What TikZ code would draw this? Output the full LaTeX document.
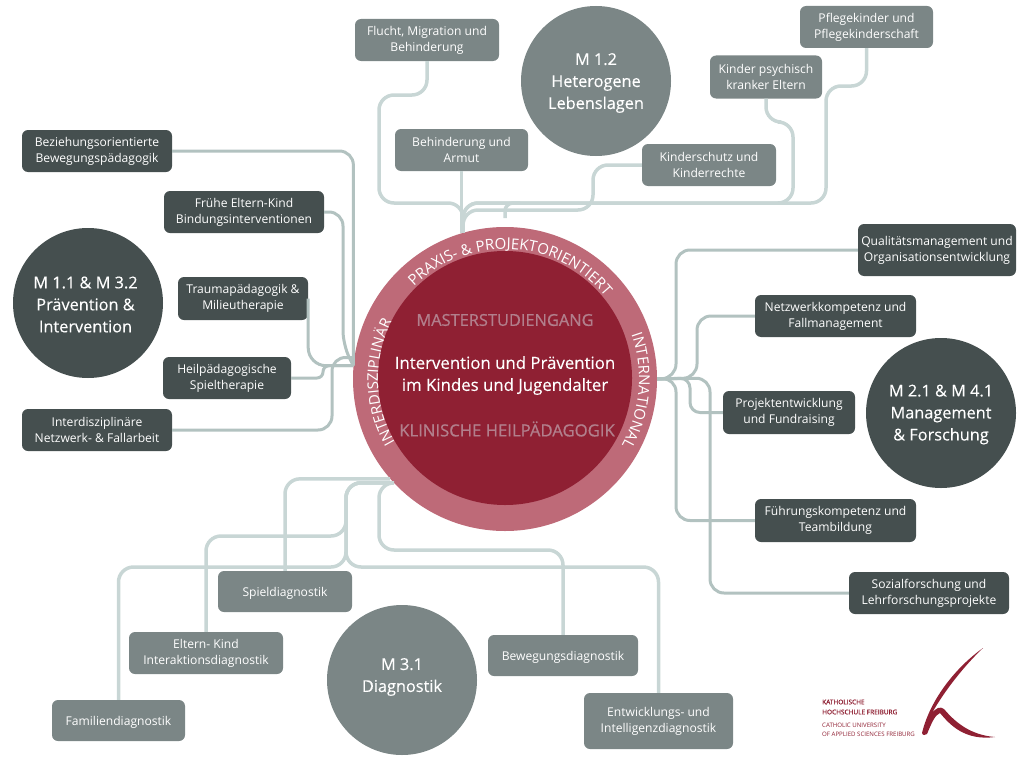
\documentclass[tikz,border=0pt]{standalone}
\usepackage{fontspec}
\setmainfont{Open Sans}
\newfontfamily\semifont[FakeBold=0.2]{Open Sans}
\newfontfamily\heavyfont[FakeBold=0.8]{Open Sans}
\usetikzlibrary{decorations.text}
\definecolor{KHred}{HTML}{8F2033}
\definecolor{KHring}{HTML}{BE6A78}
\definecolor{KHmauve}{HTML}{B27F8C}
\definecolor{KHgrey}{HTML}{7B8686}
\definecolor{KHdark}{HTML}{454F4F}
\definecolor{KHlight}{HTML}{C8D6D5}
\definecolor{KHmid}{HTML}{B2C2C0}

\begin{document}
\begin{tikzpicture}[
    x=1pt, y=1pt,
    box/.style={fill=#1, rounded corners=6pt, text=white, align=center, inner sep=0pt,
                font=\fontsize{12.1}{16}\selectfont,
                execute at begin node={\rule{0pt}{15pt}}},
    boxone/.style={box=#1, execute at begin node={\rule{0pt}{14pt}},
                execute at end node={\rule[-5pt]{0pt}{5pt}}},
    modul/.style={circle, fill=#1, minimum size=150pt, inner sep=0pt},
    modultext/.style={text=white, align=center, inner sep=0pt, font=\fontsize{16.3}{22}\selectfont\semifont},
    link/.style={line width=3.5pt, draw=KHlight, rounded corners=15pt},
    linkdark/.style={line width=3pt, draw=KHmid, rounded corners=14pt},
    centertext/.style={inner sep=0pt, align=center},
    logotext/.style={anchor=west, inner sep=0pt, text=#1, font=\fontsize{6.1}{6}\selectfont},
    ringtext/.style={decorate, decoration={text along path, text align=center, text={#1}}},
]
\useasboundingbox (0,0) rectangle (1024,-768);

% modules
\node[modul=KHgrey] (m12) at (596,-81) {};
\node[modul=KHdark] (m11) at (88,-303) {};
\node[modul=KHdark] (m21) at (941,-413) {};
\node[modul=KHgrey] (m31) at (402,-680) {};
\node[modultext] (m12text) at (596,-83) {M 1.2\\Heterogene\\Lebenslagen};
\node[modultext] (m11text) at (85.5,-304.5) {M 1.1 \& M 3.2\\Prävention \&\\ Intervention};
\node[modultext] (m21text) at (941,-414.5) {M 2.1 \& M 4.1\\Management\\\& Forschung};
\node[modultext] (m31text) at (402,-677) {M 3.1\\Diagnostik};

% top boxes
\node[box=KHgrey, minimum width=144pt, minimum height=42pt] (flucht) at (427,-40) {Flucht, Migration und\\Behinderung};
\node[box=KHgrey, minimum width=133pt, minimum height=42pt] (armut) at (461.5,-150) {Behinderung und\\Armut};
\node[box=KHgrey, minimum width=134pt, minimum height=42pt] (schutz) at (709,-165) {Kinderschutz und\\Kinderrechte};
\node[box=KHgrey, minimum width=112pt, minimum height=43pt] (psychisch) at (766,-77) {Kinder psychisch\\kranker Eltern};
\node[box=KHgrey, minimum width=133pt, minimum height=42pt] (pflege) at (866.5,-27) {Pflegekinder und\\Pflegekinderschaft};

% left boxes
\node[box=KHdark, minimum width=150pt, minimum height=42pt] (beziehung) at (97,-151) {Beziehungsorientierte\\Bewegungspädagogik};
\node[box=KHdark, minimum width=160pt, minimum height=42pt] (bindung) at (244,-212) {Frühe Eltern-Kind\\Bindungsinterventionen};
\node[box=KHdark, minimum width=130pt, minimum height=43pt] (trauma) at (243,-298.5) {Traumapädagogik \&\\Milieutherapie};
\node[box=KHdark, minimum width=128pt, minimum height=42pt] (spieltherapie) at (227,-378) {Heilpädagogische\\Spieltherapie};
\node[box=KHdark, minimum width=150pt, minimum height=42pt] (fallarbeit) at (97,-430) {Interdisziplinäre\\Netzwerk- \& Fallarbeit};

% right boxes
\node[box=KHdark, minimum width=158pt, minimum height=52pt] (qualitaet) at (937,-250) {Qualitätsmanagement und\\Organisationsentwicklung};
\node[box=KHdark, minimum width=161pt, minimum height=42pt] (netzwerk) at (835.5,-316) {Netzwerkkompetenz und\\Fallmanagement};
\node[box=KHdark, minimum width=132pt, minimum height=43pt] (projekt) at (789,-412.5) {Projektentwicklung\\und Fundraising};
\node[box=KHdark, minimum width=161pt, minimum height=43pt] (fuehrung) at (835.5,-520.5) {Führungskompetenz und\\Teambildung};
\node[box=KHdark, minimum width=160pt, minimum height=42pt] (sozial) at (929,-593) {Sozialforschung und\\Lehrforschungsprojekte};

% bottom boxes
\node[boxone=KHgrey, minimum width=134pt, minimum height=41pt] (spiel) at (285,-591.5) {Spieldiagnostik};
\node[box=KHgrey, minimum width=154pt, minimum height=42pt] (eltern) at (206,-653) {Eltern- Kind\\Interaktionsdiagnostik};
\node[boxone=KHgrey, minimum width=133pt, minimum height=41pt] (familie) at (118.5,-720.5) {Familiendiagnostik};
\node[boxone=KHgrey, minimum width=150pt, minimum height=41pt] (bewegung) at (563,-655.5) {Bewegungsdiagnostik};
\node[box=KHgrey, minimum width=149pt, minimum height=56pt] (entwicklung) at (658.5,-721) {Entwicklungs- und\\Intelligenzdiagnostik};

% centre
\node[circle, fill=KHring, minimum size=304pt, inner sep=0pt] (ring) at (505,-379) {};
\node[circle, fill=KHred, minimum size=254pt, inner sep=0pt] (core) at (505,-378) {};
\node[centertext, text=KHmauve, font=\fontsize{16.4}{18}\selectfont\heavyfont] (master) at (505,-320) {MASTERSTUDIENGANG};
\node[centertext, text=white, font=\fontsize{16.8}{22}\selectfont\semifont] (titel) at (505,-375.5) {Intervention und Prävention\\im Kindes und Jugendalter};
\node[centertext, text=KHmauve, font=\fontsize{16.7}{18}\selectfont\heavyfont] (klinik) at (507,-429) {KLINISCHE HEILPÄDAGOGIK};
\path[ringtext={|\fontsize{15}{18}\selectfont\color{white}|PRAXIS- {\&} PROJEKTORIENTIERT}]
    (ring.center) ++(157:130) arc[start angle=157, end angle=17, radius=130];
\path[ringtext={|\fontsize{15}{18}\selectfont\color{white}|INTERNATIONAL}]
    (ring.center) ++(40:134) arc[start angle=40, end angle=-50, radius=134];
\path[ringtext={|\fontsize{14.7}{18}\selectfont\color{white}|INTERDISZIPLINÄR}]
    (ring.center) ++(240:127) arc[start angle=240, end angle=123, radius=127];

% connectors top
\coordinate (stub) at (505,-218);
\draw[link] (armut.south) -- (armut.south |- ring.106);
\draw[link] (flucht.south) |- (379,-95) -- (379,-203) -| (ring.106);
\draw[link] (psychisch.south) |- (793,-122) -- (793,-203) -| (ring.106);
\draw[link] (pflege.south) |- (826,-86) -- (826,-203) -| (ring.106);
\draw[link] (schutz.west) -| (593,-210) -| (ring.106);
\draw[link, rounded corners=8pt] (stub) |- (520,-203);

% connectors left
\draw[linkdark] (beziehung.east) -| (ring.175);
\draw[linkdark] (bindung.east) -| (343,-345) -- (ring.175);
\draw[linkdark, rounded corners=18pt] (trauma.east) |- (ring.175);
\draw[linkdark, rounded corners=6pt] (spieltherapie.east) -- (323,-378) |- (ring.175);
\draw[linkdark] (fallarbeit.east) -| (332,-357) -- (ring.172);

% connectors right
\draw[linkdark] (qualitaet.west) -| (676,-378) -- (ring.east);
\draw[linkdark] (netzwerk.west) -| (697,-378) -- (ring.east);
\draw[linkdark, rounded corners=10pt] (projekt.west) -| (690,-378) -- (ring.east);
\draw[linkdark] (fuehrung.west) -| (676,-378) -- (ring.east);
\draw[linkdark] (sozial.west) -| (710,-378) -- (ring.east);

% connectors bottom
\draw[link] (spiel.north) |- (ring.221);
\draw[link] (eltern.north) |- (346,-536) |- (ring.223);
\draw[link] (familie.north) |- (346,-567) |- (ring.223);
\draw[link] (entwicklung.north) |- (346,-567) |- (ring.223);
\draw[link] (bewegung.north) |- (379,-550) |- (ring.223);

% logo
\node[logotext=KHred, font=\fontsize{6.5}{6}\selectfont\heavyfont] (logoa) at (822,-702) {KATHOLISCHE};
\node[logotext=KHred, font=\fontsize{6.5}{6}\selectfont\heavyfont] (logob) at (822,-712) {HOCHSCHULE FREIBURG};
\node[logotext=KHred] (logoc) at (822,-725) {CATHOLIC UNIVERSITY};
\node[logotext=KHred] (logod) at (822,-734) {OF APPLIED SCIENCES FREIBURG};
\fill[KHred] (983,-648) .. controls (955,-668) and (930,-700) .. (922,-733)
    .. controls (923,-736) and (925,-735) .. (927,-734)
    .. controls (932,-722) and (935,-715) .. (940,-713)
    .. controls (950,-725) and (965,-741) .. (995,-737)
    .. controls (970,-735) and (955,-722) .. (944,-709)
    .. controls (940,-706) and (936,-708) .. (932,-713)
    .. controls (945,-690) and (965,-665) .. (983,-648) -- cycle;
\end{tikzpicture}
\end{document}
